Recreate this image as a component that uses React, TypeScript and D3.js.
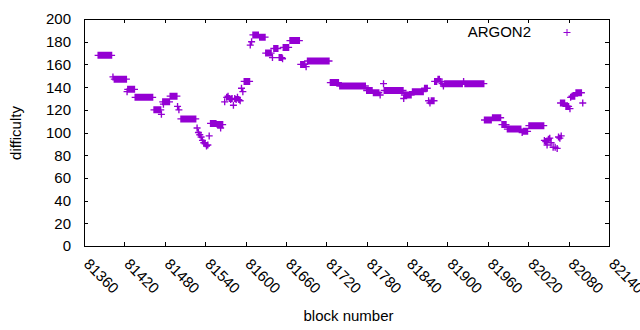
import React from 'react';
import * as d3 from 'd3';

const seriesName = 'ARGON2';
const xTicks = [81360, 81420, 81480, 81540, 81600, 81660, 81720, 81780, 81840, 81900, 81960, 82020, 82080, 82140];
const yTicks = [0, 20, 40, 60, 80, 100, 120, 140, 160, 180, 200];
const xTitle = 'block number';
const yTitle = 'difficulty';

// [block number, difficulty]
const samples: [number, number][] = [
  [81381, 168], [81383, 168], [81385, 168], [81387, 168], [81389, 168], [81391, 168], [81393, 168], [81395, 168], [81397, 168], [81399, 168], [81401, 168],
  [81403, 149],
  [81405, 147], [81407, 147], [81409, 147], [81411, 147], [81413, 147], [81415, 147], [81417, 147], [81419, 147], [81421, 147], [81423, 147],
  [81424, 136],
  [81425, 138], [81427, 138], [81429, 138], [81431, 138], [81433, 138], [81435, 138],
  [81436, 131], [81438, 131], [81440, 131], [81442, 131], [81444, 131], [81446, 131], [81448, 131], [81450, 131], [81452, 131], [81454, 131], [81456, 131], [81458, 131], [81460, 131], [81462, 131],
  [81464, 120], [81466, 120], [81468, 120], [81470, 120], [81472, 120], [81474, 120],
  [81475, 116],
  [81477, 127], [81478, 125], [81479, 127], [81481, 127], [81483, 127], [81485, 127], [81487, 127],
  [81488, 132], [81490, 132], [81492, 132], [81494, 132], [81496, 132], [81498, 132],
  [81499, 123], [81501, 120],
  [81504, 112], [81506, 112], [81508, 112], [81510, 112], [81512, 112], [81514, 112], [81516, 112], [81518, 112], [81520, 112], [81522, 112], [81524, 112], [81526, 112],
  [81528, 104], [81530, 100], [81532, 98], [81534, 96], [81536, 93], [81538, 91], [81540, 90], [81542, 88], [81544, 89], [81546, 97],
  [81548, 108], [81550, 108], [81552, 108], [81554, 108], [81556, 108], [81558, 107], [81560, 107], [81562, 107], [81563, 104], [81564, 107], [81566, 107],
  [81569, 127],
  [81572, 131], [81574, 132], [81576, 130], [81578, 129], [81580, 130], [81582, 124], [81584, 130], [81586, 129], [81588, 131], [81590, 129], [81592, 128],
  [81594, 139], [81596, 136],
  [81598, 145], [81600, 145], [81602, 145], [81604, 145], [81606, 145],
  [81607, 177], [81609, 180],
  [81611, 186], [81613, 186], [81615, 186], [81617, 186], [81619, 186],
  [81621, 184], [81623, 184], [81625, 184], [81627, 184], [81629, 184],
  [81630, 170], [81632, 170], [81634, 170], [81636, 170], [81638, 170],
  [81640, 166],
  [81642, 174], [81644, 174], [81646, 174], [81648, 174],
  [81650, 166], [81652, 166], [81654, 166], [81655, 165],
  [81656, 175], [81658, 175], [81660, 175], [81662, 175], [81664, 175],
  [81666, 181], [81668, 181], [81670, 181], [81672, 181], [81674, 181], [81676, 181], [81678, 181], [81680, 181],
  [81682, 160], [81684, 160], [81686, 160], [81688, 160], [81690, 158],
  [81692, 163], [81694, 163], [81696, 163], [81698, 163], [81700, 163], [81702, 163], [81704, 163], [81706, 163], [81708, 163], [81710, 163], [81712, 163], [81714, 163], [81716, 163], [81718, 163], [81720, 163], [81722, 163], [81724, 163],
  [81726, 144], [81728, 144], [81730, 144], [81732, 144], [81734, 144], [81736, 144], [81738, 144],
  [81740, 141], [81742, 141], [81744, 141], [81746, 141], [81748, 141], [81750, 141], [81752, 141], [81754, 141], [81756, 141], [81758, 141], [81760, 141], [81762, 141], [81764, 141], [81766, 141], [81768, 141], [81770, 141], [81772, 141], [81774, 141], [81776, 141], [81778, 141],
  [81780, 137], [81782, 137], [81784, 137], [81786, 137], [81788, 137],
  [81790, 135], [81792, 135], [81794, 135], [81796, 135], [81798, 135], [81800, 133],
  [81805, 143],
  [81806, 137], [81808, 137], [81810, 137], [81812, 137], [81814, 137], [81816, 137], [81818, 137], [81820, 137], [81822, 137], [81824, 137], [81826, 137], [81828, 137], [81830, 137], [81832, 137], [81834, 137],
  [81835, 130],
  [81836, 133], [81838, 133], [81840, 133], [81842, 133], [81844, 133], [81846, 133],
  [81848, 136], [81850, 136], [81852, 136], [81854, 136], [81856, 136], [81858, 136], [81860, 136], [81862, 136], [81864, 136],
  [81866, 139], [81868, 139], [81870, 139],
  [81872, 128], [81874, 126], [81876, 128], [81878, 128], [81880, 128],
  [81881, 145],
  [81882, 145], [81884, 145], [81886, 147], [81888, 147], [81890, 145],
  [81892, 143], [81894, 141], [81896, 143], [81898, 143], [81900, 143], [81902, 143], [81904, 143], [81906, 143], [81908, 143], [81910, 143], [81912, 143], [81914, 143], [81916, 143], [81918, 143], [81920, 143], [81922, 143], [81924, 145], [81926, 143], [81928, 143], [81930, 143], [81932, 143], [81934, 143], [81936, 143], [81938, 143], [81940, 143], [81942, 143], [81944, 143], [81946, 143], [81948, 143], [81950, 143], [81952, 143], [81954, 143],
  [81955, 111], [81957, 111], [81959, 111], [81961, 111], [81963, 111], [81965, 111],
  [81967, 113], [81969, 113], [81971, 113], [81973, 113], [81975, 113], [81977, 113], [81979, 113],
  [81981, 107], [81983, 107], [81985, 107], [81987, 107],
  [81989, 103], [81991, 103], [81993, 103], [81995, 103], [81997, 103], [81999, 103], [82001, 103], [82003, 103], [82005, 103], [82007, 103], [82009, 103],
  [82011, 100], [82013, 101], [82015, 101], [82017, 101], [82019, 101],
  [82021, 106], [82023, 106], [82025, 106], [82027, 106], [82029, 106], [82031, 106], [82033, 106], [82035, 106], [82037, 106], [82039, 106], [82041, 106], [82043, 106],
  [82044, 93], [82046, 92], [82048, 89], [82050, 94], [82052, 95], [82054, 91],
  [82057, 87], [82060, 87], [82063, 86],
  [82065, 96], [82067, 95], [82069, 97],
  [82068, 126], [82070, 126], [82072, 126], [82074, 126],
  [82076, 123], [82078, 123], [82080, 123], [82082, 121],
  [82083, 131], [82085, 132], [82087, 132], [82089, 132],
  [82091, 135], [82093, 135], [82095, 135], [82097, 135], [82099, 135],
  [82101, 126],
];

const COLOR = '#9400d3';
const FONT = "'Liberation Sans', Arial, sans-serif";

export default function App() {
  const width = 640;
  const height = 330;
  const left = 84, right = 609, top = 19, bottom = 246;
  const x = d3.scaleLinear().domain([81360, 82140]).range([left, right]);
  const y = d3.scaleLinear().domain([0, 200]).range([bottom, top]);
  const arm = 3.5;
  const cross = (cx: number, cy: number) =>
    `M${cx - arm},${cy}h${2 * arm}M${cx},${cy - arm}v${2 * arm}`;
  const markerPath = samples.map(([b, d]) => cross(x(b), y(d))).join('');
  const tick = 4;

  return (
    <svg width={width} height={height} style={{ position: 'absolute', left: 0, top: 0, background: '#fff' }}
      fontFamily={FONT}>
      <rect x={0} y={0} width={width} height={height} fill="#fff" />
      <g shapeRendering="crispEdges" stroke="#000" strokeWidth={1}>
        {yTicks.map((t) => (
          <g key={'y' + t}>
            <line x1={left} x2={left + tick} y1={Math.round(y(t)) + 0.5} y2={Math.round(y(t)) + 0.5} />
            <line x1={right - tick} x2={right} y1={Math.round(y(t)) + 0.5} y2={Math.round(y(t)) + 0.5} />
          </g>
        ))}
        {xTicks.map((t) => (
          <g key={'x' + t}>
            <line x1={Math.round(x(t)) + 0.5} x2={Math.round(x(t)) + 0.5} y1={bottom} y2={bottom - tick} />
            <line x1={Math.round(x(t)) + 0.5} x2={Math.round(x(t)) + 0.5} y1={top} y2={top + tick} />
          </g>
        ))}
        <rect x={left + 0.5} y={top + 0.5} width={right - left} height={bottom - top} fill="none" />
      </g>
      <g fontSize={15} fill="#000">
        {yTicks.map((t) => (
          <text key={'yl' + t} x={left - 13} y={y(t)} dy="0.36em" textAnchor="end">{t}</text>
        ))}
        {xTicks.map((t) => (
          <text key={'xl' + t} x={0} y={0} textAnchor="start"
            transform={`translate(${x(t) - 1},${bottom + 19}) rotate(45)`}>{t}</text>
        ))}
        <text x={(left + right) / 2 + 2} y={321} textAnchor="middle">{xTitle}</text>
        <text transform={`translate(21,133) rotate(-90)`} textAnchor="middle">{yTitle}</text>
        <text x={531} y={36.5} textAnchor="end">{seriesName}</text>
      </g>
      <path d={cross(567, 32.5)} stroke={COLOR} strokeWidth={1} fill="none" />
      <path d={markerPath} stroke={COLOR} strokeWidth={1.35} fill="none" />
    </svg>
  );
}
